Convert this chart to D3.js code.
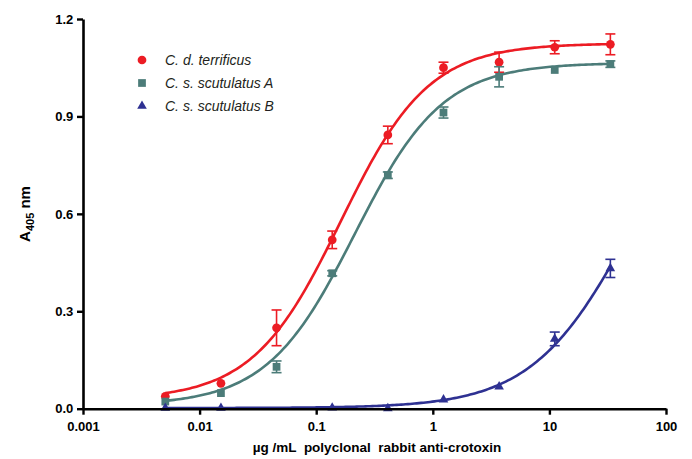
<!DOCTYPE html>
<html>
<head>
<meta charset="utf-8">
<script src="https://cdn.jsdelivr.net/npm/d3@7"></script>
<style>
  body { margin: 0; background: #fff; }
  text { font-family: "Liberation Sans", Arial, sans-serif; }
</style>
</head>
<body>
<svg id="chart" width="692" height="459"></svg>
<script>
// threefold dilutions of antibody (ug/mL)
const doses = [0.00508, 0.01524, 0.0457, 0.1372, 0.4115, 1.235, 3.704, 11.11, 33.33];

const seriesNames = ["C. d. terrificus", "C. s. scutulatus A", "C. s. scutulatus B"];

const terrificusMean = [0.038, 0.078, 0.249, 0.520, 0.843, 1.050, 1.067, 1.113, 1.122];
const terrificusErr  = [0.002, 0.003, 0.055, 0.027, 0.027, 0.017, 0.031, 0.020, 0.032];

const scutulatusAMean = [0.022, 0.048, 0.129, 0.417, 0.719, 0.912, 1.022, 1.043, 1.061];
const scutulatusAErr  = [0.002, 0.003, 0.018, 0.008, 0.010, 0.017, 0.031, 0.006, 0.010];

// no B point at the third dilution
const scutulatusBDoses = [0.00508, 0.01524, 0.1372, 0.4115, 1.235, 3.704, 11.11, 33.33];
const scutulatusBMean  = [0.002, 0.002, 0.003, 0.001, 0.028, 0.068, 0.215, 0.432];
const scutulatusBErr   = [0.001, 0.001, 0.001, 0.001, 0.003, 0.004, 0.021, 0.028];

// four-parameter logistic fits: [bottom, top, logEC50, hill]
const terrificusFit  = [0.028, 1.125, -0.79, 1.15];
const scutulatusAFit = [0.010, 1.065, -0.67, 1.15];
const scutulatusBFit = [0.002, 1.10, 1.70, 1.02];

const xTicks = [0.001, 0.01, 0.1, 1, 10, 100];
const yTicks = [0, 0.3, 0.6, 0.9, 1.2];

const colors = ["#ec1c24", "#4c7c79", "#2e3192"];

const svg = d3.select("#chart");

const xScale = d3.scaleLog().domain([0.001, 100]).range([83, 666]);
const yScale = d3.scaleLinear().domain([0, 1.2]).range([408.7, 19]);

const series = [
  { x: doses, y: terrificusMean, e: terrificusErr, fit: terrificusFit, shape: d3.symbolCircle, size: 60 },
  { x: doses, y: scutulatusAMean, e: scutulatusAErr, fit: scutulatusAFit, shape: d3.symbolSquare, size: 60 },
  { x: scutulatusBDoses, y: scutulatusBMean, e: scutulatusBErr, fit: scutulatusBFit, shape: d3.symbolTriangle, size: 40 }
];

const logistic = (p, x) => p[0] + (p[1] - p[0]) / (1 + Math.pow(10, (p[2] - Math.log10(x)) * p[3]));

const line = d3.line()
  .x(d => xScale(d[0]))
  .y(d => yScale(d[1]));

series.forEach((s, i) => {
  const lo = Math.log10(s.x[0]);
  const hi = Math.log10(s.x[s.x.length - 1]);
  const pts = d3.range(0, 201).map(k => {
    const x = Math.pow(10, lo + (hi - lo) * k / 200);
    return [x, logistic(s.fit, x)];
  });
  svg.append("path")
    .attr("d", line(pts))
    .attr("fill", "none")
    .attr("stroke", colors[i])
    .attr("stroke-width", 2.6);

  const g = svg.append("g");
  s.x.forEach((x, j) => {
    const cx = xScale(x);
    const top = yScale(s.y[j] + s.e[j]);
    const bot = yScale(Math.max(0, s.y[j] - s.e[j]));
    // Prism hides error bars shorter than the symbol
    if (bot - top > 4) {
      g.append("line").attr("x1", cx).attr("x2", cx).attr("y1", top).attr("y2", bot)
        .attr("stroke", colors[i]).attr("stroke-width", 1.6);
      [top, bot].forEach(yy => g.append("line")
        .attr("x1", cx - 5).attr("x2", cx + 5).attr("y1", yy).attr("y2", yy)
        .attr("stroke", colors[i]).attr("stroke-width", 1.6));
    }
    g.append("path")
      .attr("d", d3.symbol().type(s.shape).size(s.size)())
      .attr("transform", `translate(${cx},${yScale(s.y[j])})`)
      .attr("fill", colors[i]);
  });
});

// axes
const xAxis = d3.axisBottom(xScale).tickValues(xTicks).tickFormat(d3.format("")).tickSize(6).tickSizeOuter(0);
const yAxis = d3.axisLeft(yScale).tickValues(yTicks).tickFormat(d3.format(".1f")).tickSize(6).tickSizeOuter(0);

const gx = svg.append("g").attr("transform", `translate(0,${yScale(0)})`).call(xAxis);
const gy = svg.append("g").attr("transform", `translate(${xScale(0.001)},0)`).call(yAxis);

[gx, gy].forEach(g => {
  g.select(".domain").attr("stroke", "#000").attr("stroke-width", 2.6);
  g.selectAll(".tick line").attr("stroke", "#000").attr("stroke-width", 2.4);
  g.selectAll(".tick text")
    .attr("fill", "#000")
    .style("font-size", "13px")
    .style("font-weight", "bold");
});
gx.selectAll(".tick text").attr("dy", "1.05em");
gy.selectAll(".tick text").attr("dx", "-0.05em");

// axis titles
svg.append("text")
  .attr("x", 377).attr("y", 452)
  .attr("text-anchor", "middle")
  .style("font-size", "13.5px").style("font-weight", "bold")
  .attr("xml:space", "preserve")
  .text("µg /mL  polyclonal  rabbit anti-crotoxin");

const yt = svg.append("text")
  .attr("transform", "translate(30,214) rotate(-90)")
  .attr("text-anchor", "middle")
  .style("font-size", "15px").style("font-weight", "bold");
yt.append("tspan").text("A");
yt.append("tspan").attr("dy", 4).style("font-size", "11px").text("405");
yt.append("tspan").attr("dy", -4).text(" nm");

// legend
const legend = svg.append("g");
series.forEach((s, i) => {
  const y = 60 + i * 23;
  legend.append("path")
    .attr("d", d3.symbol().type(s.shape).size(s.size)())
    .attr("transform", `translate(142,${y})`)
    .attr("fill", colors[i]);
  legend.append("text")
    .attr("x", 165).attr("y", y + 5)
    .style("font-size", "14px").style("font-style", "italic")
    .attr("fill", "#231f20")
    .text(seriesNames[i]);
});
</script>
</body>
</html>
